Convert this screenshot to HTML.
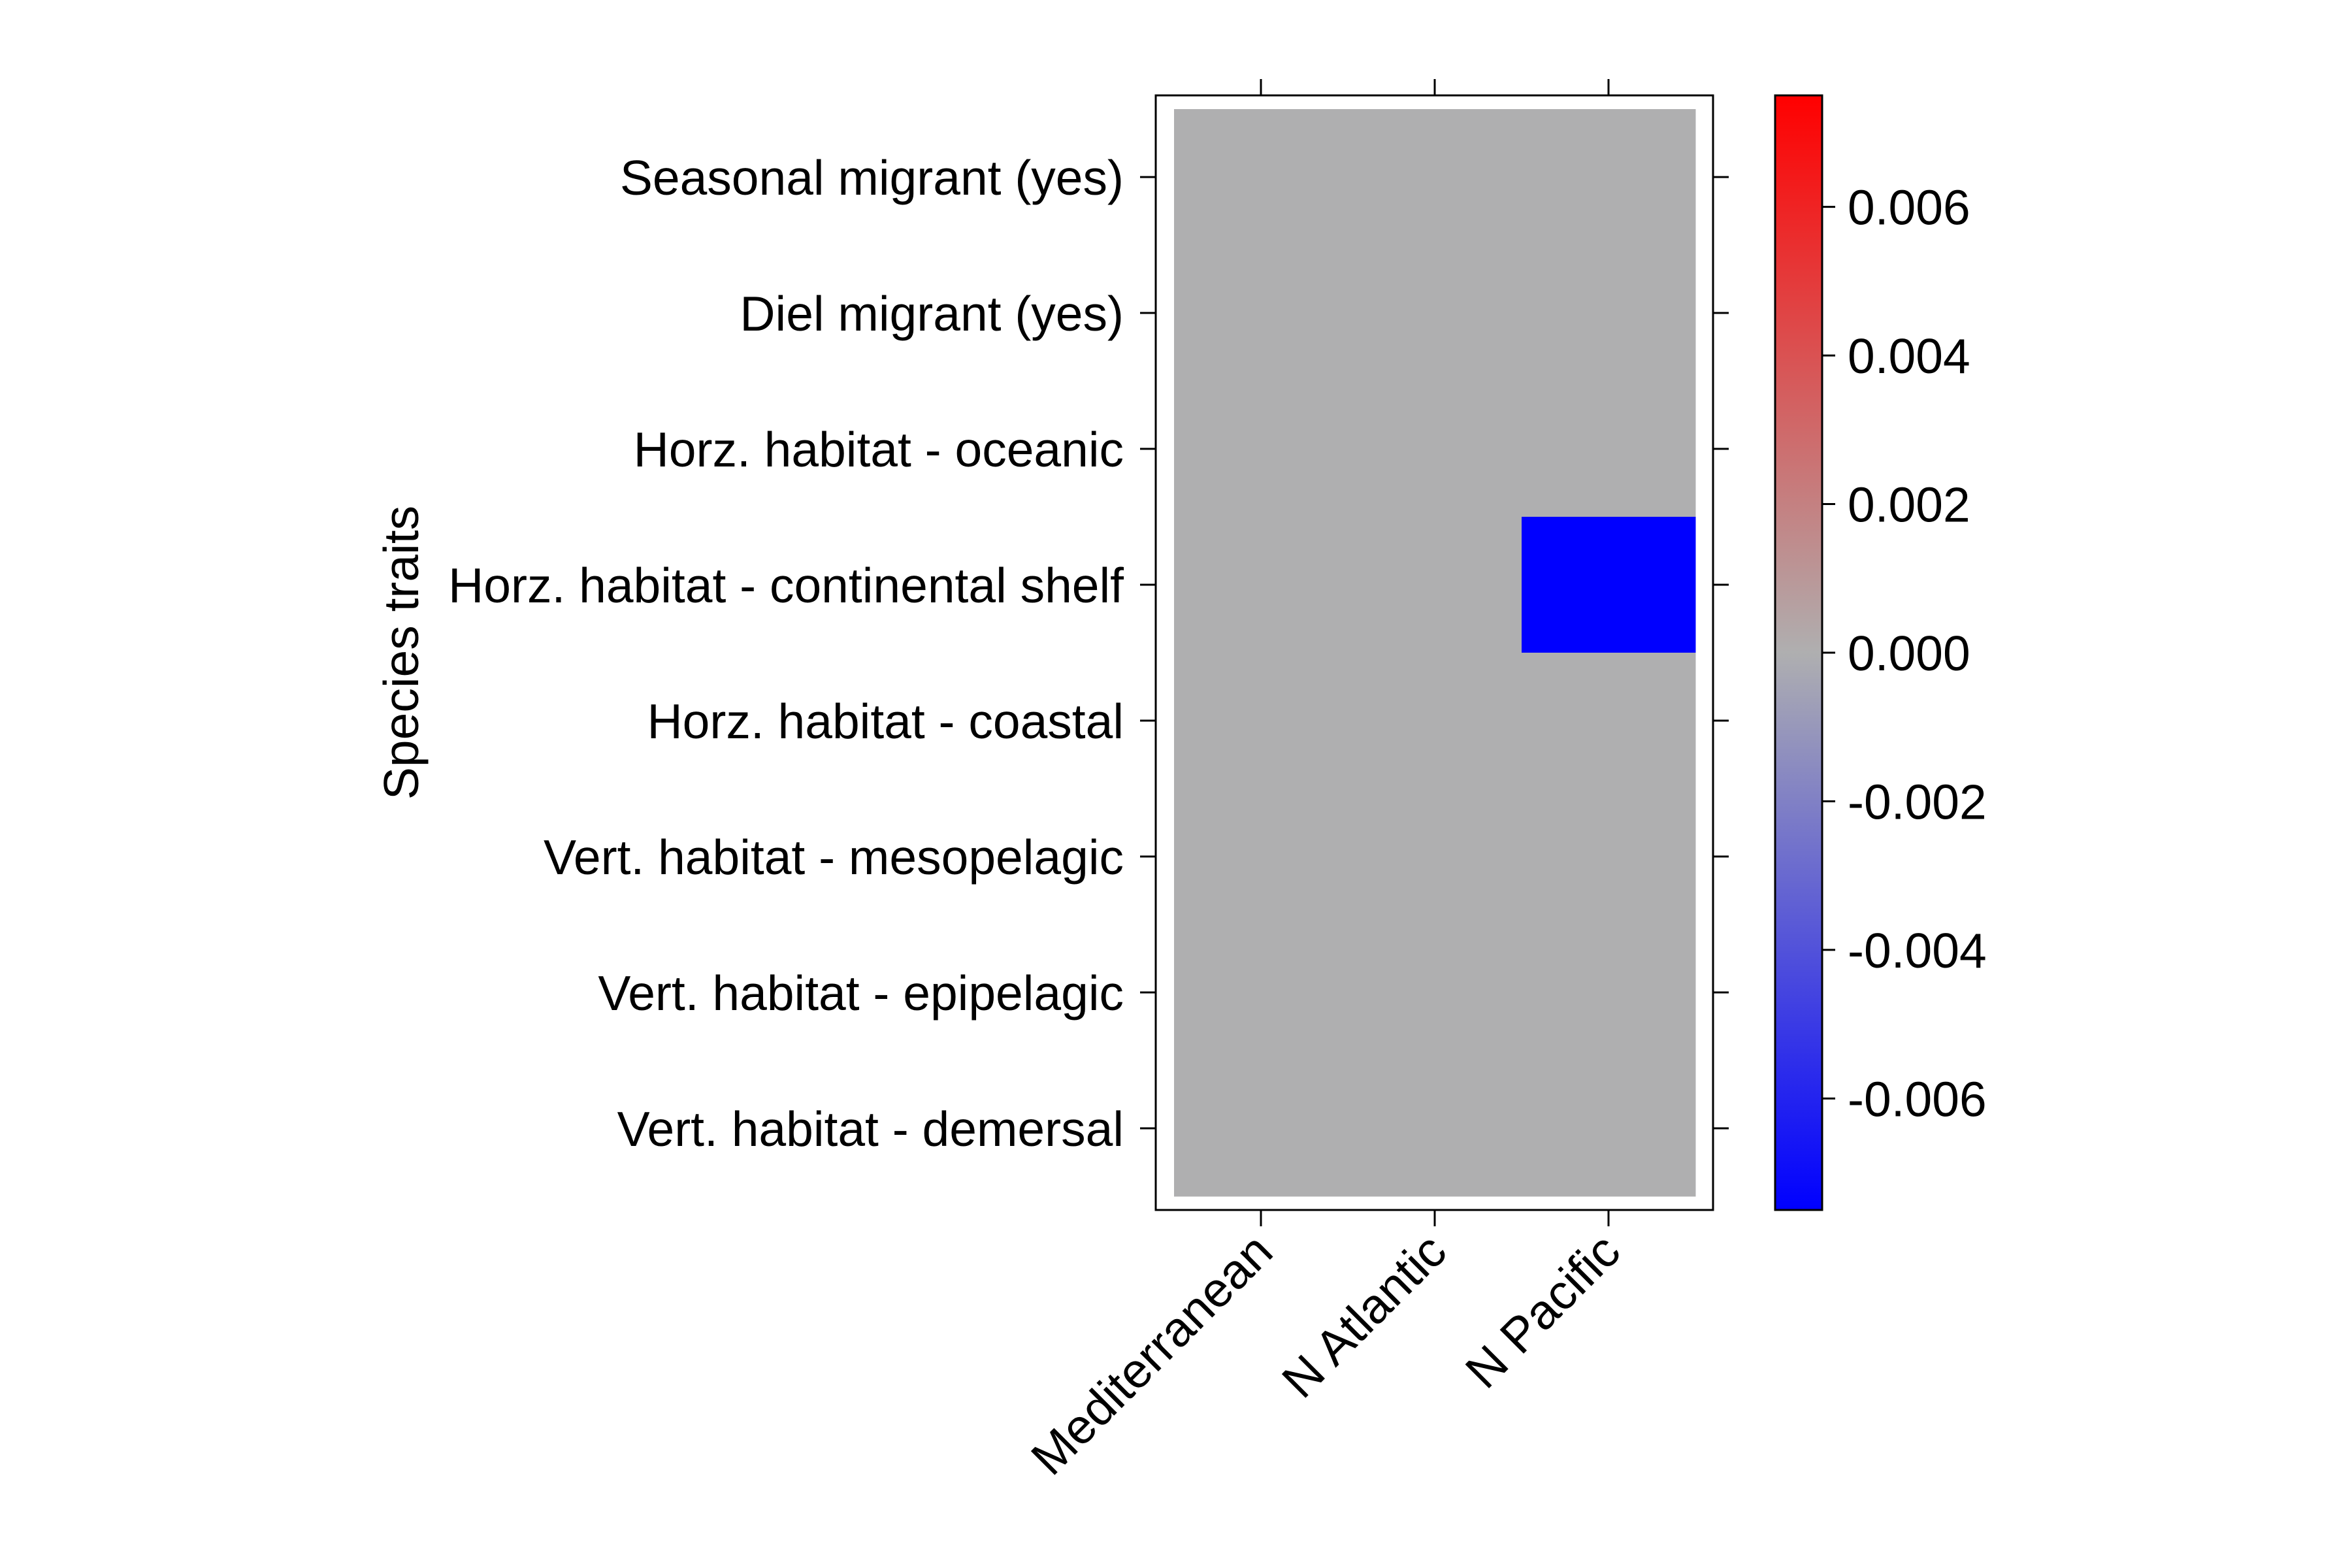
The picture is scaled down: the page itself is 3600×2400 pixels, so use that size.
<!DOCTYPE html>
<html><head><meta charset="utf-8"><style>
html,body{margin:0;padding:0;background:#fff;}
svg{display:block;font-family:"Liberation Sans",Arial,sans-serif;}
</style></head><body>
<svg id="chart" width="3600" height="2400" viewBox="0 0 3600 2400">
<defs>
<linearGradient id="cbgrad" x1="0" y1="1" x2="0" y2="0">
<stop offset="0" stop-color="#0000ff"/>
<stop offset="0.5" stop-color="#afafb0"/>
<stop offset="1" stop-color="#ff0000"/>
</linearGradient>
</defs>
<g id="plot"></g>
</svg>
<script>
const rows = ["Seasonal migrant (yes)","Diel migrant (yes)","Horz. habitat - oceanic","Horz. habitat - continental shelf","Horz. habitat - coastal","Vert. habitat - mesopelagic","Vert. habitat - epipelagic","Vert. habitat - demersal"];
const cols = ["Mediterranean","N Atlantic","N Pacific"];
const valMediterranean = [0,0,0,0,0,0,0,0];
const valNAtlantic = [0,0,0,0,0,0,0,0];
const valNPacific = [0,0,0,-0.0075,0,0,0,0];
const cbTicks = [0.006,0.004,0.002,0,-0.002,-0.004,-0.006];
const cbTickLabels = ["0.006","0.004","0.002","0.000","-0.002","-0.004","-0.006"];
const vmin = -0.0075, vmax = 0.0075;

const NS="http://www.w3.org/2000/svg";
const g=document.getElementById('plot');
function mk(tag,attrs,parent){const e=document.createElementNS(NS,tag);for(const k in attrs)e.setAttribute(k,attrs[k]);(parent||g).appendChild(e);return e;}
const gx0=1797,gx1=2595,gy0=167,gy1=1831;
const fx0=1769,fx1=2622,fy0=146,fy1=1852;
const cw=(gx1-gx0)/cols.length, rh=(gy1-gy0)/rows.length;
const xPos=i=>gx0+i*cw, yPos=j=>gy0+j*rh;
function color(v){
  const t=(v-vmin)/(vmax-vmin);
  const g0=[0xaf,0xaf,0xb0];
  let c;
  if(t<0.5){const s=t/0.5;c=[0+(g0[0])*s,0+g0[1]*s,255+(g0[2]-255)*s];}
  else{const s=(t-0.5)/0.5;c=[g0[0]+(255-g0[0])*s,g0[1]*(1-s),g0[2]*(1-s)];}
  return `rgb(${Math.round(c[0])},${Math.round(c[1])},${Math.round(c[2])})`;
}
const frame=mk('rect',{x:fx0,y:fy0,width:fx1-fx0,height:fy1-fy0,fill:'#fff',stroke:'#000','stroke-width':3});


const series=[valMediterranean,valNAtlantic,valNPacific];
series.forEach((arr,i)=>{arr.forEach((v,j)=>{
  const r=mk('rect',{x:xPos(i),y:yPos(j),width:cw+0.5,height:rh+0.5,fill:color(v)});
  
  
});});
rows.forEach((lab,j)=>{
  const y=yPos(j)+rh/2;
  mk('line',{x1:fx0-24,x2:fx0,y1:y,y2:y,stroke:'#000','stroke-width':3});
  mk('line',{x1:fx1,x2:fx1+24,y1:y,y2:y,stroke:'#000','stroke-width':3});
  const t=mk('text',{x:1720,y:y+27,'text-anchor':'end','font-size':75,fill:'#000'});
  t.textContent=lab;
  
  
});
cols.forEach((lab,i)=>{
  const x=xPos(i)+cw/2;
  mk('line',{x1:x,x2:x,y1:fy0-25,y2:fy0,stroke:'#000','stroke-width':3});
  mk('line',{x1:x,x2:x,y1:fy1,y2:fy1+25,stroke:'#000','stroke-width':3});
  const ax=x+22, ay=1920;
  const t=mk('text',{x:ax,y:ay,'text-anchor':'end','font-size':75,fill:'#000',transform:`rotate(-45 ${ax} ${ay})`});
  t.textContent=lab;
  
  
});
const yt=mk('text',{x:640,y:999,'text-anchor':'middle','font-size':75,fill:'#000',transform:'rotate(-90 640 999)'});
yt.textContent='Species traits';


const cbx0=2717,cbx1=2789;
const cb=mk('rect',{x:cbx0,y:fy0,width:cbx1-cbx0,height:fy1-fy0,fill:'url(#cbgrad)',stroke:'#000','stroke-width':3});


const cbY=v=>fy1-(v-vmin)/(vmax-vmin)*(fy1-fy0);
cbTicks.forEach((v,k)=>{
  const y=cbY(v);
  mk('line',{x1:cbx1,x2:cbx1+20,y1:y,y2:y,stroke:'#000','stroke-width':3});
  const t=mk('text',{x:2828,y:y+27,'font-size':75,fill:'#000'});
  t.textContent=cbTickLabels[k];
  
  
});
</script>
</body></html>
